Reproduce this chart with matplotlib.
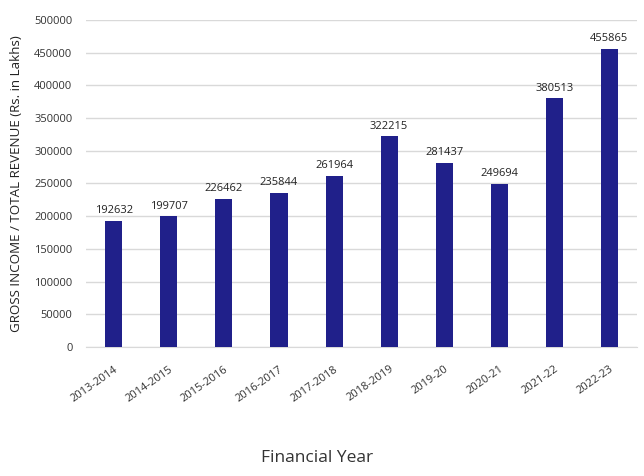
import matplotlib
matplotlib.use("Agg")
import matplotlib.pyplot as plt

years = ["2013-2014", "2014-2015", "2015-2016", "2016-2017", "2017-2018",
         "2018-2019", "2019-20", "2020-21", "2021-22", "2022-23"]
income = [192632, 199707, 226462, 235844, 261964, 322215, 281437, 249694, 380513, 455865]
yticks = [0, 50000, 100000, 150000, 200000, 250000, 300000, 350000, 400000, 450000, 500000]

plt.rcParams['font.family'] = ['Open Sans', 'DejaVu Sans']

fig = plt.figure(figsize=(6.44, 4.76), dpi=100)
ax = fig.add_axes([0.134, 0.271, 0.855, 0.687])

x = list(range(len(years)))
bars = ax.bar(x, income, width=0.31, color="#20208a", zorder=3)
for xi, v in zip(x, income):
    ax.text(xi, v + 7000, str(v), ha="center", va="bottom", fontsize=8, color="#222222")

ax.set_xlim(-0.5, len(years) - 0.5)
ax.set_ylim(0, 500000)
ax.set_yticks(yticks)
ax.set_yticklabels([str(t) for t in yticks], fontsize=8, color="#333333")
ax.set_xticks(x)
ax.set_xticklabels(years, rotation=35, ha="right", rotation_mode="anchor", fontsize=8, color="#333333")
ax.grid(axis="y", color="#d9d9d9", linewidth=1, zorder=0)
for s in ["top", "right", "left"]:
    ax.spines[s].set_visible(False)
ax.spines["bottom"].set_color("#d9d9d9")
ax.tick_params(axis="both", length=0)
ax.tick_params(axis="x", pad=12)
ax.tick_params(axis="y", pad=10)

ax.set_ylabel("GROSS INCOME / TOTAL REVENUE (Rs. in Lakhs)", fontsize=9.6, color="#222222", labelpad=8)
fig.text(0.492, 0.022, "Financial Year", ha="center", va="bottom", fontsize=12.5, color="#333333")

fig.savefig("out.png", dpi=100)
